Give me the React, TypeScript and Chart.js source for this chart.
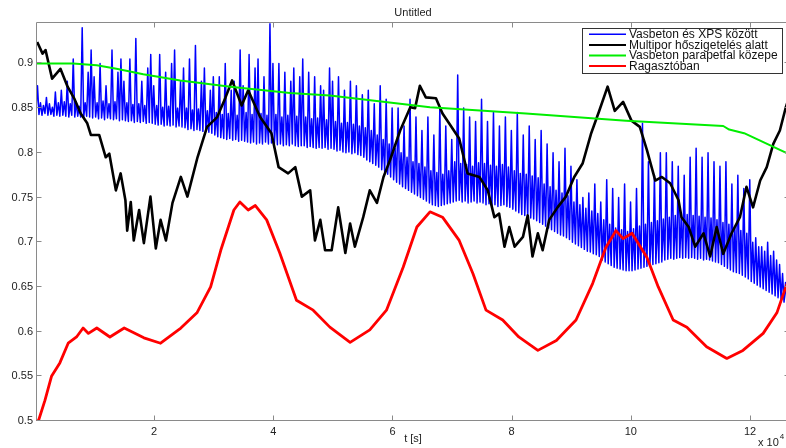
import { useEffect, useRef } from "react";
import { Chart, registerables } from "chart.js";

Chart.register(...registerables);

const FONT = "'Liberation Sans', Arial, Helvetica, sans-serif";
const TITLE = "Untitled";
const X_LABEL = "t [s]";
const X_EXP_BASE = "x 10";
const X_EXP_POW = "4";

const xTicks = [2, 4, 6, 8, 10, 12];
const yTicks = [0.5, 0.55, 0.6, 0.65, 0.7, 0.75, 0.8, 0.85, 0.9];
const X_MIN = 0.02;
const X_MAX = 12.67;
const Y_MIN = 0.5;
const Y_MAX = 0.945;

const seriesNames = [
  "Vasbeton és XPS között",
  "Multipor hőszigetelés alatt",
  "Vasbeton parapetfal közepe",
  "Ragasztóban",
];
const seriesColors = ["#0000ff", "#000000", "#00ee00", "#ff0000"];
const seriesWidths = [1.5, 2.6, 2, 2.8];

// Vasbeton és XPS között — sampled every BLUE_DT (×10^4 s) from BLUE_T0
const BLUE_T0 = 0.02;
const BLUE_DT = 0.025;
const blueValues = [
  0.848, 0.875, 0.843, 0.856, 0.842, 0.853, 0.844, 0.862, 0.842, 0.855, 0.843, 0.851, 0.841, 0.868, 0.842, 0.856, 0.841, 0.87, 0.842, 0.857,
  0.841, 0.88, 0.84, 0.855, 0.842, 0.905, 0.84, 0.857, 0.841, 0.852, 0.84, 0.94, 0.839, 0.856, 0.841, 0.89, 0.84, 0.915, 0.839, 0.885,
  0.84, 0.856, 0.838, 0.9, 0.839, 0.858, 0.837, 0.875, 0.839, 0.855, 0.838, 0.915, 0.837, 0.857, 0.838, 0.89, 0.836, 0.905, 0.837, 0.88,
  0.836, 0.856, 0.835, 0.905, 0.836, 0.854, 0.834, 0.928, 0.835, 0.855, 0.834, 0.88, 0.835, 0.853, 0.833, 0.895, 0.834, 0.91, 0.833, 0.875,
  0.832, 0.853, 0.831, 0.91, 0.832, 0.851, 0.83, 0.89, 0.831, 0.852, 0.83, 0.9, 0.831, 0.915, 0.829, 0.85, 0.83, 0.88, 0.829, 0.895,
  0.828, 0.85, 0.826, 0.905, 0.827, 0.848, 0.825, 0.92, 0.826, 0.849, 0.825, 0.88, 0.824, 0.895, 0.825, 0.847, 0.823, 0.87, 0.822, 0.885,
  0.82, 0.845, 0.818, 0.885, 0.817, 0.843, 0.816, 0.9, 0.815, 0.844, 0.816, 0.87, 0.814, 0.88, 0.815, 0.842, 0.813, 0.915, 0.814, 0.875,
  0.813, 0.845, 0.812, 0.91, 0.811, 0.843, 0.812, 0.895, 0.81, 0.905, 0.811, 0.844, 0.81, 0.885, 0.812, 0.842, 0.81, 0.945, 0.811, 0.9,
  0.81, 0.843, 0.809, 0.9, 0.81, 0.84, 0.808, 0.89, 0.809, 0.842, 0.808, 0.88, 0.81, 0.895, 0.808, 0.841, 0.807, 0.885, 0.808, 0.905,
  0.808, 0.84, 0.806, 0.89, 0.807, 0.838, 0.806, 0.885, 0.805, 0.839, 0.806, 0.875, 0.805, 0.87, 0.806, 0.837, 0.804, 0.895, 0.805, 0.88,
  0.804, 0.835, 0.802, 0.885, 0.803, 0.833, 0.801, 0.87, 0.8, 0.834, 0.801, 0.88, 0.799, 0.832, 0.8, 0.875, 0.798, 0.83, 0.797, 0.865,
  0.795, 0.828, 0.792, 0.87, 0.79, 0.825, 0.788, 0.855, 0.786, 0.82, 0.784, 0.875, 0.781, 0.815, 0.779, 0.86, 0.776, 0.81, 0.773, 0.85,
  0.77, 0.805, 0.767, 0.85, 0.765, 0.8, 0.762, 0.83, 0.76, 0.795, 0.758, 0.86, 0.756, 0.79, 0.754, 0.84, 0.752, 0.788, 0.75, 0.825,
  0.748, 0.784, 0.746, 0.84, 0.744, 0.78, 0.742, 0.82, 0.741, 0.778, 0.74, 0.85, 0.741, 0.776, 0.742, 0.83, 0.743, 0.78, 0.744, 0.815,
  0.745, 0.79, 0.746, 0.887, 0.747, 0.788, 0.745, 0.85, 0.746, 0.787, 0.744, 0.84, 0.745, 0.785, 0.746, 0.835, 0.744, 0.789, 0.745, 0.86,
  0.744, 0.788, 0.742, 0.835, 0.743, 0.786, 0.741, 0.845, 0.742, 0.785, 0.74, 0.83, 0.741, 0.787, 0.742, 0.84, 0.74, 0.784, 0.739, 0.825,
  0.737, 0.78, 0.735, 0.845, 0.733, 0.777, 0.731, 0.82, 0.73, 0.776, 0.728, 0.83, 0.727, 0.774, 0.726, 0.815, 0.724, 0.772, 0.722, 0.825,
  0.72, 0.765, 0.718, 0.81, 0.716, 0.762, 0.714, 0.8, 0.712, 0.758, 0.71, 0.79, 0.708, 0.755, 0.707, 0.805, 0.705, 0.752, 0.703, 0.785,
  0.7, 0.745, 0.698, 0.77, 0.696, 0.742, 0.694, 0.75, 0.692, 0.738, 0.69, 0.755, 0.689, 0.735, 0.687, 0.765, 0.686, 0.732, 0.684, 0.745,
  0.68, 0.725, 0.678, 0.77, 0.676, 0.72, 0.674, 0.76, 0.672, 0.716, 0.671, 0.75, 0.67, 0.714, 0.669, 0.765, 0.668, 0.712, 0.668, 0.745,
  0.668, 0.715, 0.669, 0.76, 0.67, 0.718, 0.671, 0.833, 0.672, 0.72, 0.673, 0.79, 0.674, 0.722, 0.675, 0.775, 0.676, 0.724, 0.677, 0.8,
  0.678, 0.726, 0.68, 0.8, 0.681, 0.728, 0.682, 0.79, 0.681, 0.73, 0.682, 0.785, 0.683, 0.729, 0.682, 0.775, 0.683, 0.731, 0.682, 0.795,
  0.683, 0.73, 0.682, 0.805, 0.681, 0.729, 0.682, 0.795, 0.68, 0.728, 0.681, 0.8, 0.68, 0.727, 0.679, 0.79, 0.678, 0.725, 0.677, 0.785,
  0.675, 0.722, 0.673, 0.79, 0.671, 0.72, 0.669, 0.765, 0.667, 0.716, 0.666, 0.775, 0.665, 0.713, 0.663, 0.76, 0.661, 0.71, 0.659, 0.77,
  0.656, 0.7, 0.654, 0.705, 0.652, 0.695, 0.65, 0.695, 0.648, 0.69, 0.646, 0.7, 0.644, 0.685, 0.642, 0.69, 0.64, 0.68, 0.638, 0.675,
  0.636, 0.665, 0.633, 0.655, 0.63, 0.64, 0.627,
];

// Multipor hőszigetelés alatt
const blackT = [
  0.04, 0.13, 0.18, 0.29, 0.43, 0.55, 0.66, 0.77, 0.88, 0.94,
  1.08, 1.19, 1.25, 1.36, 1.44, 1.52, 1.55, 1.61, 1.66, 1.75,
  1.83, 1.94, 2.03, 2.11, 2.2, 2.31, 2.45, 2.56, 2.73, 2.89,
  3.06, 3.2, 3.31, 3.47, 3.58, 3.78, 3.97, 4.09, 4.25, 4.37,
  4.48, 4.62, 4.7, 4.79, 4.87, 4.98, 5.09, 5.21, 5.29, 5.37,
  5.51, 5.62, 5.74, 5.85, 5.96, 6.13, 6.3, 6.38, 6.46, 6.56,
  6.73, 6.84, 6.95, 7.12, 7.26, 7.46, 7.6, 7.71, 7.79, 7.88,
  7.96, 8.05, 8.19, 8.27, 8.35, 8.44, 8.52, 8.63, 8.77, 8.91,
  9.05, 9.19, 9.33, 9.47, 9.61, 9.73, 9.87, 10.01, 10.15, 10.27,
  10.41, 10.52, 10.66, 10.8, 10.85, 10.97, 11.08, 11.22, 11.33, 11.44,
  11.55, 11.69, 11.83, 11.94, 12.05, 12.17, 12.28, 12.39, 12.5, 12.6,
  12.67,
];
const blackV = [
  0.924, 0.911, 0.915, 0.883, 0.894, 0.874, 0.861, 0.844, 0.833, 0.82,
  0.82, 0.795, 0.799, 0.758, 0.777, 0.747, 0.713, 0.745, 0.702, 0.736,
  0.699, 0.751, 0.693, 0.725, 0.702, 0.744, 0.773, 0.751, 0.795, 0.829,
  0.84, 0.862, 0.881, 0.853, 0.87, 0.84, 0.822, 0.784, 0.777, 0.784,
  0.751, 0.758, 0.702, 0.725, 0.691, 0.691, 0.739, 0.688, 0.721, 0.695,
  0.728, 0.758, 0.744, 0.773, 0.792, 0.825, 0.851, 0.85, 0.875, 0.862,
  0.861, 0.844, 0.833, 0.816, 0.777, 0.773, 0.758, 0.728, 0.732, 0.695,
  0.717, 0.695, 0.706, 0.73, 0.684, 0.71, 0.691, 0.725, 0.739, 0.751,
  0.773, 0.788, 0.821, 0.847, 0.874, 0.847, 0.857, 0.836, 0.829, 0.803,
  0.769, 0.773, 0.766, 0.747, 0.728, 0.717, 0.695, 0.71, 0.684, 0.717,
  0.687, 0.71, 0.728, 0.762, 0.739, 0.769, 0.784, 0.81, 0.825, 0.851,
  0.865,
];

// Vasbeton parapetfal közepe
const greenT = [0.02, 0.64, 1.04, 1.37, 1.82, 2.44, 3.28, 4.28, 4.95, 6.63, 8.24, 9.92, 11.55, 11.65, 11.9, 12.67];
const greenV = [0.9, 0.9, 0.898, 0.894, 0.888, 0.881, 0.874, 0.867, 0.864, 0.851, 0.844, 0.836, 0.83, 0.826, 0.822, 0.798];

// Ragasztóban
const redT = [
  0.02, 0.06, 0.17, 0.28, 0.42, 0.56, 0.7, 0.81, 0.9, 1.04,
  1.26, 1.5, 1.83, 2.11, 2.45, 2.72, 2.95, 3.12, 3.34, 3.44,
  3.58, 3.7, 3.89, 4.11, 4.39, 4.67, 4.95, 5.29, 5.62, 5.9,
  6.18, 6.41, 6.63, 6.84, 7.12, 7.35, 7.57, 7.85, 8.12, 8.44,
  8.75, 9.08, 9.36, 9.58, 9.75, 9.87, 10.02, 10.27, 10.46, 10.71,
  10.94, 11.27, 11.61, 11.88, 12.22, 12.45, 12.6, 12.67,
];
const redV = [
  0.5, 0.5, 0.523, 0.55, 0.565, 0.587, 0.594, 0.604, 0.598, 0.604,
  0.594, 0.604, 0.593, 0.587, 0.604, 0.621, 0.65, 0.691, 0.736, 0.745,
  0.736, 0.741, 0.725, 0.688, 0.635, 0.624, 0.605, 0.588, 0.602, 0.624,
  0.672, 0.717, 0.734, 0.728, 0.702, 0.665, 0.624, 0.613, 0.594, 0.579,
  0.59, 0.613, 0.654, 0.694, 0.713, 0.704, 0.71, 0.683, 0.65, 0.613,
  0.605, 0.583, 0.57, 0.579, 0.598, 0.621, 0.65, 0.662,
];

const toPoints = (ts: number[], vs: number[]) => vs.map((v, i) => ({ x: ts[i], y: v }));

const frameAndLegend = {
  id: "frameAndLegend",
  afterDraw(chart: any) {
    const { ctx, chartArea: a, scales } = chart;
    const xs = scales.x;
    const ys = scales.y;
    ctx.save();
    // axes box
    ctx.strokeStyle = "#8a8a8a";
    ctx.lineWidth = 1;
    const L = Math.round(a.left) + 0.5;
    const T = Math.round(a.top) - 0.5;
    const R = Math.round(a.right) - 0.5;
    const B = Math.round(a.bottom) - 0.5;
    ctx.beginPath();
    ctx.moveTo(L, T);
    ctx.lineTo(R, T);
    ctx.lineTo(R, B);
    ctx.lineTo(L, B);
    ctx.closePath();
    ctx.stroke();
    // inward ticks
    const tl = 5;
    ctx.beginPath();
    xTicks.forEach((t) => {
      const px = Math.round(xs.getPixelForValue(t)) + 0.5;
      ctx.moveTo(px, B);
      ctx.lineTo(px, B - tl);
      ctx.moveTo(px, T);
      ctx.lineTo(px, T + tl);
    });
    yTicks.forEach((t) => {
      const py = Math.round(ys.getPixelForValue(t)) - 0.5;
      ctx.moveTo(L, py);
      ctx.lineTo(L + tl, py);
      ctx.moveTo(R, py);
      ctx.lineTo(R - tl, py);
    });
    ctx.stroke();

    // exponent label
    ctx.fillStyle = "#222";
    ctx.textBaseline = "middle";
    ctx.textAlign = "left";
    ctx.font = `11px ${FONT}`;
    const ex = a.right - 32;
    ctx.fillText(X_EXP_BASE, ex, 443);
    const bw = ctx.measureText(X_EXP_BASE).width;
    ctx.font = `8px ${FONT}`;
    ctx.fillText(X_EXP_POW, ex + bw + 1, 437);

    // legend
    ctx.font = `12px ${FONT}`;
    const ds = chart.data.datasets;
    const textW = Math.max(...ds.map((d: any) => ctx.measureText(d.label).width));
    const padL = 7, lineLen = 37, gap = 3, padR = 4, rowH = 10.6, padT = 6.3;
    const w = Math.round(padL + lineLen + gap + textW + padR);
    const h = Math.round(padT + (ds.length - 1) * rowH + 7);
    const right = Math.round(a.right) - 8;
    const left = right - w;
    const top = Math.round(a.top) + 5;
    ctx.fillStyle = "#ffffff";
    ctx.fillRect(left, top, w, h);
    ctx.strokeStyle = "#333";
    ctx.lineWidth = 1;
    ctx.strokeRect(left + 0.5, top + 0.5, w, h);
    ds.forEach((d: any, i: number) => {
      const y = top + padT + i * rowH;
      ctx.strokeStyle = d.borderColor;
      ctx.lineWidth = Math.min(2, Math.max(1.5, d.borderWidth));
      ctx.beginPath();
      ctx.moveTo(left + padL, y);
      ctx.lineTo(left + padL + lineLen, y);
      ctx.stroke();
      ctx.fillStyle = "#111";
      ctx.textBaseline = "middle";
      ctx.fillText(d.label, left + padL + lineLen + gap, y + 0.5);
    });
    ctx.restore();
  },
};

export default function App() {
  const ref = useRef<HTMLCanvasElement | null>(null);
  useEffect(() => {
    document.body.style.margin = "0";
    const canvas = ref.current;
    if (!canvas) return;
    const blueT = blueValues.map((_, i) => BLUE_T0 + i * BLUE_DT);
    const seriesData = [
      toPoints(blueT, blueValues),
      toPoints(blackT, blackV),
      toPoints(greenT, greenV),
      toPoints(redT, redV),
    ];
    const tickFont = { family: FONT, size: 11, weight: "normal" as const };
    const chart = new Chart(canvas, {
      type: "line",
      data: {
        datasets: seriesNames.map((name, i) => ({
          label: name,
          data: seriesData[i],
          borderColor: seriesColors[i],
          backgroundColor: seriesColors[i],
          borderWidth: seriesWidths[i],
          pointRadius: 0,
          tension: 0,
          fill: false,
          order: seriesNames.length - i,
          borderJoinStyle: "round" as const,
        })),
      },
      options: {
        animation: false,
        responsive: false,
        events: [],
        parsing: false as any,
        plugins: {
          legend: { display: false },
          tooltip: { enabled: false },
          title: {
            display: true,
            text: TITLE,
            fullSize: false,
            color: "#222",
            font: { family: FONT, size: 11, weight: "normal" },
            padding: { top: 6, bottom: 4 },
          },
        },
        scales: {
          x: {
            type: "linear",
            min: X_MIN,
            max: X_MAX,
            afterBuildTicks: (s: any) => {
              s.ticks = xTicks.map((v) => ({ value: v }));
            },
            afterFit: (s: any) => {
              s.height = 27;
            },
            grid: { display: false, drawTicks: false },
            border: { display: false },
            ticks: {
              padding: 4,
              color: "#222",
              font: tickFont,
              maxRotation: 0,
              autoSkip: false,
              callback: (v: any) => String(v),
            },
            title: {
              display: true,
              text: X_LABEL,
              color: "#222",
              font: tickFont,
              padding: { top: 0, bottom: 2 },
            },
          },
          y: {
            type: "linear",
            min: Y_MIN,
            max: Y_MAX,
            afterBuildTicks: (s: any) => {
              s.ticks = yTicks.map((v) => ({ value: v }));
            },
            afterFit: (s: any) => {
              s.width = 36;
            },
            grid: { display: false, drawTicks: false },
            border: { display: false },
            ticks: {
              padding: 3,
              color: "#222",
              font: tickFont,
              autoSkip: false,
              callback: (v: any) => String(v),
            },
          },
        },
      },
      plugins: [frameAndLegend],
    });
    return () => chart.destroy();
  }, []);
  return (
    <div style={{ width: 786, height: 448, overflow: "hidden", position: "relative", background: "#fff" }}>
      <canvas ref={ref} width={790} height={448} style={{ display: "block" }} />
    </div>
  );
}
